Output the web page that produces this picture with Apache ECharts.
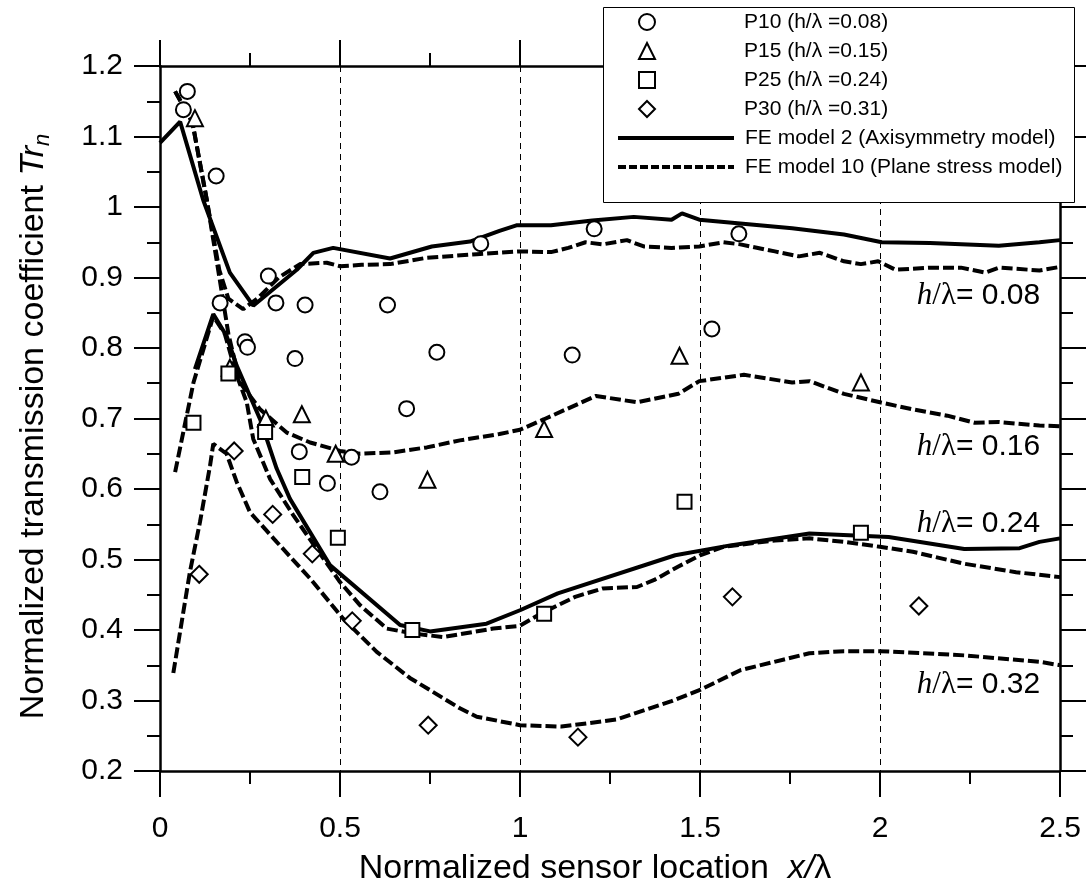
<!DOCTYPE html>
<html>
<head>
<meta charset="utf-8">
<script src="https://cdn.jsdelivr.net/npm/echarts@6/dist/echarts.min.js"></script>
<style>
  html, body { margin: 0; padding: 0; background: #ffffff; }
  #chart { width: 1091px; height: 891px; }
</style>
</head>
<body>
<div id="chart"></div>
<script>
// Measured transmission coefficients [x/λ, Tr_n]
const p10 = [[0.065,1.138],[0.076,1.164],[0.156,1.044],[0.167,0.864],[0.236,0.809],[0.243,0.801],
  [0.301,0.902],[0.322,0.864],[0.375,0.785],[0.387,0.653],[0.403,0.861],[0.465,0.608],[0.532,0.645],
  [0.611,0.596],[0.632,0.861],[0.685,0.714],[0.769,0.794],[0.891,0.948],[1.145,0.790],[1.206,0.969],
  [1.533,0.827],[1.608,0.962]];
const p15 = [[0.097,1.126],[0.194,0.772],[0.294,0.700],[0.394,0.706],[0.488,0.650],[0.743,0.613],
  [1.067,0.685],[1.443,0.789],[1.947,0.751]];
const p25 = [[0.093,0.694],[0.190,0.764],[0.292,0.681],[0.395,0.617],[0.494,0.531],[0.701,0.400],
  [1.067,0.423],[1.457,0.582],[1.947,0.538]];
const p30 = [[0.109,0.479],[0.206,0.654],[0.313,0.564],[0.423,0.508],[0.534,0.413],[0.745,0.265],
  [1.161,0.248],[1.590,0.447],[2.108,0.434]];

// FE model 2 (axisymmetry) curves
const fe2H008 = [[0,1.091],[0.056,1.121],[0.079,1.081],[0.12,1.01],[0.194,0.907],[0.259,0.86],[0.38,0.911],
  [0.426,0.935],[0.481,0.942],[0.639,0.927],[0.755,0.944],[0.861,0.951],[0.943,0.966],[0.99,0.974],
  [1.086,0.974],[1.201,0.981],[1.316,0.986],[1.421,0.982],[1.45,0.991],[1.498,0.982],[1.756,0.97],
  [1.9,0.961],[2.005,0.95],[2.139,0.949],[2.33,0.945],[2.443,0.95],[2.5,0.953]];
const fe2H024 = [[0.097,0.77],[0.148,0.848],[0.185,0.817],[0.213,0.775],[0.278,0.699],[0.324,0.629],
  [0.361,0.586],[0.472,0.492],[0.667,0.407],[0.75,0.398],[0.907,0.409],[1.0,0.428],[1.105,0.452],
  [1.431,0.506],[1.584,0.52],[1.804,0.537],[2.024,0.532],[2.234,0.515],[2.388,0.516],[2.443,0.525],[2.5,0.53]];

// FE model 10 (plane stress) curves
const fe10H008 = [[0.042,1.164],[0.09,1.12],[0.13,1.01],[0.165,0.91],[0.19,0.87],[0.231,0.855],[0.27,0.87],
  [0.33,0.9],[0.389,0.919],[0.463,0.921],[0.5,0.916],[0.56,0.918],[0.639,0.919],[0.741,0.928],[0.88,0.933],
  [1.0,0.937],[1.086,0.936],[1.134,0.942],[1.182,0.95],[1.23,0.947],[1.297,0.953],[1.344,0.944],[1.421,0.942],
  [1.498,0.944],[1.565,0.95],[1.612,0.947],[1.708,0.937],[1.775,0.93],[1.833,0.935],[1.9,0.923],[1.947,0.919],
  [1.995,0.923],[2.043,0.911],[2.139,0.914],[2.225,0.914],[2.292,0.907],[2.33,0.914],[2.443,0.91],[2.5,0.915]];
const fe10H016 = [[0.042,1.164],[0.09,1.12],[0.13,1.01],[0.165,0.9],[0.19,0.82],[0.222,0.751],[0.278,0.713],
  [0.352,0.68],[0.417,0.666],[0.5,0.654],[0.556,0.65],[0.648,0.652],[0.741,0.659],[0.833,0.669],[0.943,0.678],
  [1.0,0.684],[1.067,0.699],[1.211,0.732],[1.325,0.723],[1.44,0.735],[1.498,0.753],[1.622,0.762],[1.756,0.751],
  [1.804,0.753],[1.9,0.735],[2.0,0.723],[2.091,0.713],[2.187,0.704],[2.263,0.694],[2.33,0.695],[2.443,0.69],[2.5,0.689]];
const fe10H024 = [[0.042,0.624],[0.093,0.751],[0.148,0.845],[0.18,0.82],[0.213,0.761],[0.241,0.723],[0.259,0.671],
  [0.306,0.614],[0.37,0.563],[0.435,0.515],[0.5,0.468],[0.556,0.435],[0.63,0.402],[0.704,0.395],[0.787,0.39],
  [0.926,0.402],[1.0,0.406],[1.057,0.423],[1.153,0.447],[1.23,0.459],[1.325,0.461],[1.373,0.471],[1.44,0.49],
  [1.5,0.506],[1.565,0.518],[1.708,0.527],[1.804,0.53],[1.9,0.525],[2.0,0.518],[2.091,0.511],[2.234,0.494],
  [2.378,0.482],[2.5,0.475]];
const fe10H032 = [[0.037,0.339],[0.083,0.482],[0.111,0.553],[0.139,0.633],[0.148,0.664],[0.185,0.65],[0.213,0.61],
  [0.25,0.567],[0.324,0.525],[0.417,0.473],[0.509,0.416],[0.602,0.369],[0.694,0.332],[0.833,0.289],[0.88,0.277],
  [1.0,0.265],[1.115,0.263],[1.268,0.273],[1.421,0.299],[1.5,0.315],[1.612,0.343],[1.804,0.367],[1.9,0.37],
  [2.0,0.37],[2.234,0.364],[2.443,0.355],[2.5,0.35]];

// Series names shown in the legend
const markerNames = ['P10 (h/λ =0.08)', 'P15 (h/λ =0.15)', 'P25 (h/λ =0.24)', 'P30 (h/λ =0.31)'];
const modelNames = ['FE model 2 (Axisymmetry model)', 'FE model 10 (Plane stress model)'];

// Curve annotations: text and anchor [x, y] (right edge of the text)
const curveLabels = ['0.08', '0.16', '0.24', '0.32'];
const curveLabelAnchors = [[2.445, 0.874], [2.445, 0.660], [2.445, 0.551], [2.445, 0.322]];

// Axis ranges and tick steps
const xRange = [0, 2.5], xStep = 0.5;
const yRange = [0.2, 1.2], yStep = 0.1;

const SANS = '"Liberation Sans", Arial, sans-serif';
const SERIF = '"Liberation Serif", "Times New Roman", serif';
const INK = '#000000';

const solidStyle = { color: INK, width: 4 };
const dashStyle = { color: INK, width: 4, type: [11, 4] };

function frameAxis(extra) {
  return Object.assign({
    type: 'value',
    axisLine: { show: true, onZero: false, lineStyle: { color: INK, width: 2.5 } },
    axisTick: { show: true, inside: false, length: 26, lineStyle: { color: INK, width: 2 } },
    minorTick: { show: true, splitNumber: 2, length: 13, lineStyle: { color: INK, width: 2 } },
    splitLine: { show: false },
    axisLabel: { show: false }
  }, extra);
}

const chart = echarts.init(document.getElementById('chart'), null, { renderer: 'canvas' });

const lineSeries = (name, data, style) => ({
  type: 'line', name, data, symbol: 'none', showSymbol: false, smooth: false,
  lineStyle: style, itemStyle: { color: INK }, z: 3, silent: true
});
const markerSeries = (name, data, symbol, size) => ({
  type: 'scatter', name, data, symbol, symbolSize: size,
  itemStyle: { color: INK, borderColor: INK, borderWidth: 1.6, opacity: 1 }, z: 5, silent: true
});

const option = {
  animation: false,
  backgroundColor: '#ffffff',
  grid: { left: 160, right: 31, top: 66, bottom: 118, containLabel: false },
  xAxis: [
    frameAxis({
      min: xRange[0], max: xRange[1], interval: xStep, position: 'bottom',
      axisLabel: { show: true, margin: 43, color: INK, fontSize: 30, fontFamily: SANS },
      splitLine: { show: true, lineStyle: { color: INK, width: 1, type: [6, 5] } },
      name: 'Normalized sensor location  {i|x/}λ',
      nameLocation: 'middle', nameGap: 81,
      nameTextStyle: { color: INK, fontSize: 34, fontFamily: SANS, verticalAlign: 'top',
        padding: [0, 30, 0, 0],
        rich: { i: { fontStyle: 'italic', fontSize: 34, fontFamily: SANS, color: INK } } }
    }),
    frameAxis({ min: xRange[0], max: xRange[1], interval: xStep, position: 'top' })
  ],
  yAxis: [
    frameAxis({
      min: yRange[0], max: yRange[1], interval: yStep, position: 'left',
      axisLabel: { show: true, margin: 37, color: INK, fontSize: 30, fontFamily: SANS },
      name: 'Normalized transmission coefficient {i|Tr}{s|n}',
      nameLocation: 'middle', nameGap: 106, nameRotate: 90,
      nameTextStyle: { color: INK, fontSize: 34, fontFamily: SANS, lineHeight: 40,
        padding: [0, 16, 0, 0],
        rich: {
          i: { fontStyle: 'italic', fontSize: 34, fontFamily: SANS, color: INK, lineHeight: 40 },
          s: { fontStyle: 'italic', fontSize: 22, fontFamily: SANS, color: INK, verticalAlign: 'bottom', lineHeight: 32 }
        } }
    }),
    frameAxis({ min: yRange[0], max: yRange[1], interval: yStep, position: 'right' })
  ],
  legend: [
    {
      data: markerNames, orient: 'vertical', left: 638, top: 7.5, padding: 0, itemGap: 0,
      itemWidth: 16, itemHeight: 16, selectedMode: false, z: 110,
      textStyle: { color: INK, fontSize: 21, fontFamily: SANS, lineHeight: 29, padding: [0, 0, 0, 84] }
    },
    {
      data: [
        { name: modelNames[0], lineStyle: { width: 4, type: 'solid', color: INK } },
        { name: modelNames[1], lineStyle: { width: 4, type: [8, 3], color: INK } }
      ],
      orient: 'vertical', left: 616, top: 123.5, padding: 0, itemGap: 0,
      itemWidth: 116, itemHeight: 14, selectedMode: false, z: 110,
      itemStyle: { opacity: 0, color: 'transparent', borderWidth: 0 },
      textStyle: { color: INK, fontSize: 21, fontFamily: SANS, lineHeight: 29, padding: [0, 0, 0, 6] }
    }
  ],
  graphic: [{
    type: 'rect', left: 603, top: 7, z: 100,
    shape: { width: 471, height: 195 },
    style: { fill: '#ffffff', stroke: INK, lineWidth: 1 }
  }],
  series: [
    lineSeries(modelNames[0], fe2H008, solidStyle),
    lineSeries(modelNames[0], fe2H024, solidStyle),
    lineSeries(modelNames[1], fe10H008, dashStyle),
    lineSeries(modelNames[1], fe10H016, dashStyle),
    lineSeries(modelNames[1], fe10H024, dashStyle),
    lineSeries(modelNames[1], fe10H032, dashStyle),
    markerSeries(markerNames[0], p10, 'emptyCircle', 15),
    markerSeries(markerNames[1], p15, 'emptyTriangle', 16),
    markerSeries(markerNames[2], p25, 'emptyRect', 14),
    markerSeries(markerNames[3], p30, 'emptyDiamond', 17),
    {
      type: 'scatter', name: 'curve labels', silent: true, z: 6,
      symbolSize: 0,
      itemStyle: { opacity: 1, color: INK },
      data: curveLabelAnchors.map((p, i) => ({ value: p, text: curveLabels[i] })),
      label: {
        show: true, position: 'left', distance: 0, color: INK, opacity: 1,
        formatter: (p) => '{h|h}{l|/λ}{n|= ' + p.data.text + '}',
        rich: {
          h: { fontStyle: 'italic', fontFamily: SERIF, fontSize: 31, color: INK, opacity: 1 },
          l: { fontFamily: SERIF, fontSize: 31, color: INK, opacity: 1 },
          n: { fontFamily: SANS, fontSize: 30, color: INK, opacity: 1 }
        }
      }
    }
  ]
};

chart.setOption(option);
</script>
</body>
</html>
